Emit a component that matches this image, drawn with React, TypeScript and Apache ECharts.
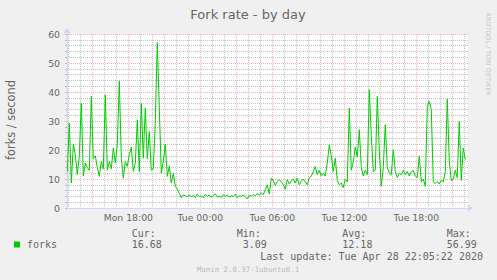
import React, { useEffect, useRef } from 'react';
import * as echarts from 'echarts';

// time in hours since Mon 00:00; samples every 10 minutes from Mon 12:55
const startHour = 12 + 55 / 60;
const stepHours = 10 / 60;
const forks = [
  12.6, 29.3, 8.6, 22, 18.4, 11.5, 18, 36.2, 11, 15.5,
  13.9, 13, 38.5, 17, 18, 14, 10.9, 16, 13.5, 39,
  13, 16, 13.5, 20.7, 15.5, 22, 43.7, 17.2, 10.3, 16,
  14.4, 18.4, 21, 12.6, 15.5, 30.4, 12.6, 36.2, 17.2, 34.5,
  17, 26.4, 13, 13.5, 30, 57, 34.5, 12, 16, 22,
  10.9, 14.5, 8.6, 12, 7.5, 6.5, 5, 3.5, 4.5, 4.2,
  4.0, 4.6, 3.8, 4.4, 3.6, 4.8, 3.9, 4.2, 3.5, 4.7,
  4.0, 4.5, 3.7, 4.3, 4.9, 3.8, 4.1, 3.6, 4.6, 4.0,
  4.4, 3.7, 4.2, 3.9, 4.8, 3.6, 4.3, 4.0, 4.5, 3.8,
  3.1, 4.4, 4.0, 4.7, 4.2, 5.0, 4.4, 5.2, 4.6, 6.3,
  8.0, 4.8, 10.3, 9.5, 7.8, 9.2, 9.8, 9.0, 8.0, 6.5,
  9.8, 8.2, 9.4, 10.0, 8.6, 10.3, 8.0, 9.2, 10.0, 9.0,
  8.0, 10.5, 11.0, 12.5, 14.3, 11.5, 13, 11, 12, 11,
  15.5, 21.8, 18, 12.6, 17.2, 9.5, 8.0, 8.6, 7.0, 10,
  9, 34.5, 13, 16, 21, 17.6, 27, 14, 11, 13,
  11.5, 40.8, 25, 12.6, 13, 38.5, 20, 7.5, 14, 28.7,
  14, 12, 11.5, 20.1, 12.6, 10.5, 12, 11.5, 13, 11.5,
  12.6, 11, 12.5, 13, 11, 10.5, 18, 9, 10, 7.5,
  35, 36.8, 34, 9, 8.5, 9.2, 8.3, 9.5, 9, 12.5,
  37.6, 16, 9.5, 10, 13, 10.5, 29.9, 9.5, 20.7, 16.7,
];

const xMin = 12.89;
const xMax = 46.31;
const hourGridTicks = Array.from({ length: 34 }, (_, k) => 13 + k); // Mon 13:00 .. Tue 22:00
const xLabelHours = [18, 24, 30, 36, 42];
const xLabelTexts = ['Mon 18:00', 'Tue 00:00', 'Tue 06:00', 'Tue 12:00', 'Tue 18:00'];
const yMin = 0;
const yMax = 60;
const yInterval = 10;

const title = 'Fork rate - by day';
const yName = 'forks / second';
const seriesName = 'forks';
const statLabels = ['Cur:', 'Min:', 'Avg:', 'Max:'];
const statValues = ['16.68', '3.09', '12.18', '56.99'];
const lastUpdate = 'Last update: Tue Apr 28 22:05:22 2020';
const footer = 'Munin 2.0.37-1ubuntu0.1';
const watermark = 'RRDTOOL / TOBI OETIKER';

const minorGrid = 'rgba(150,150,150,0.6)';
const majorGrid = 'rgba(235,100,100,0.5)';
const axisBlue = '#CFD6F8';
const fontColor = '#666666';
const green = '#00cc00';

export default function App() {
  const ref = useRef<HTMLDivElement>(null);
  useEffect(() => {
    document.body.style.margin = '0';
    const chart = echarts.init(ref.current!, undefined, { renderer: 'svg' });
    const data = forks.map((v, i) => [startHour + i * stepHours, v]);
    const statX = [131.7, 236.7, 342.3, 446.7];
    const valX = [131.7, 242.7, 342.3, 446.7];
    const mono = 'DejaVu Sans Mono';
    const graphics: any[] = [
      { type: 'text', x: 248, y: 14, style: { text: title, fill: fontColor, font: '13px "DejaVu Sans"', align: 'center', verticalAlign: 'middle' } },
      { type: 'text', x: 10.5, y: 120, rotation: Math.PI / 2, style: { text: yName, fill: fontColor, font: '11.4px "DejaVu Sans"', align: 'center', verticalAlign: 'middle' } },
      { type: 'text', x: 488, y: 54, rotation: -Math.PI / 2, style: { text: watermark, fill: '#c8c8c8', font: '6.5px "DejaVu Sans"', align: 'center', verticalAlign: 'middle' } },
      { type: 'rect', shape: { x: 14, y: 241.5, width: 6, height: 6 }, style: { fill: green } },
      { type: 'text', x: 27, y: 244.5, style: { text: seriesName, fill: fontColor, font: `10px "${mono}"`, verticalAlign: 'middle' } },
      { type: 'text', x: 483, y: 256.7, style: { text: lastUpdate, fill: fontColor, font: `10px "${mono}"`, align: 'right', verticalAlign: 'middle' } },
      { type: 'text', x: 248, y: 269.5, style: { text: footer, fill: '#bbbbbb', font: `7.4px "${mono}"`, align: 'center', verticalAlign: 'middle' } },
    ];
    statLabels.forEach((s, k) => {
      graphics.push({ type: 'text', x: statX[k], y: 233.3, style: { text: s, fill: fontColor, font: `10px "${mono}"`, verticalAlign: 'middle' } });
      graphics.push({ type: 'text', x: valX[k], y: 244.5, style: { text: statValues[k], fill: fontColor, font: `10px "${mono}"`, verticalAlign: 'middle' } });
    });
    chart.setOption({
      animation: false,
      backgroundColor: '#f0f0f0',
      grid: { left: 67, top: 34, width: 401, height: 174, show: true, backgroundColor: '#ffffff', borderWidth: 0, containLabel: false },
      xAxis: {
        type: 'value',
        min: xMin,
        max: xMax,
        axisLine: { show: true, lineStyle: { color: axisBlue, width: 1 }, symbol: ['none', 'arrow'], symbolSize: [6, 6], symbolOffset: [0, 5] },
        axisTick: { show: false, customValues: hourGridTicks },
        splitLine: { show: true, lineStyle: { color: [minorGrid, minorGrid, majorGrid], width: 1, type: [1, 1] } },
        axisLabel: {
          show: true,
          customValues: xLabelHours,
          margin: 5,
          color: fontColor,
          fontFamily: 'DejaVu Sans',
          fontSize: 9.3,
          formatter: (v: number) => {
            const k = xLabelHours.findIndex((h) => Math.abs(h - v) < 1e-6);
            return k >= 0 ? xLabelTexts[k] : '';
          },
        },
      },
      yAxis: {
        type: 'value',
        min: yMin,
        max: yMax,
        interval: yInterval,
        axisLine: { show: true, lineStyle: { color: axisBlue, width: 1 }, symbol: ['none', 'arrow'], symbolSize: [6, 6], symbolOffset: [0, 6] },
        axisTick: { show: true, length: 2, lineStyle: { color: majorGrid } },
        minorTick: { show: true, splitNumber: 5, length: 2, lineStyle: { color: minorGrid } },
        splitLine: { show: true, lineStyle: { color: majorGrid, width: 1, type: [1, 1] } },
        minorSplitLine: { show: true, lineStyle: { color: minorGrid, width: 1, type: [1, 1] } },
        axisLabel: { margin: 7, color: fontColor, fontFamily: 'DejaVu Sans', fontSize: 9.3 },
      },
      series: [
        {
          type: 'line',
          name: seriesName,
          data,
          showSymbol: false,
          symbol: 'none',
          lineStyle: { color: green, width: 1 },
          z: 5,
        },
      ],
      graphic: graphics,
    });
    return () => chart.dispose();
  }, []);
  return <div ref={ref} style={{ position: 'fixed', left: 0, top: 0, width: 497, height: 280, background: '#f0f0f0' }} />;
}
